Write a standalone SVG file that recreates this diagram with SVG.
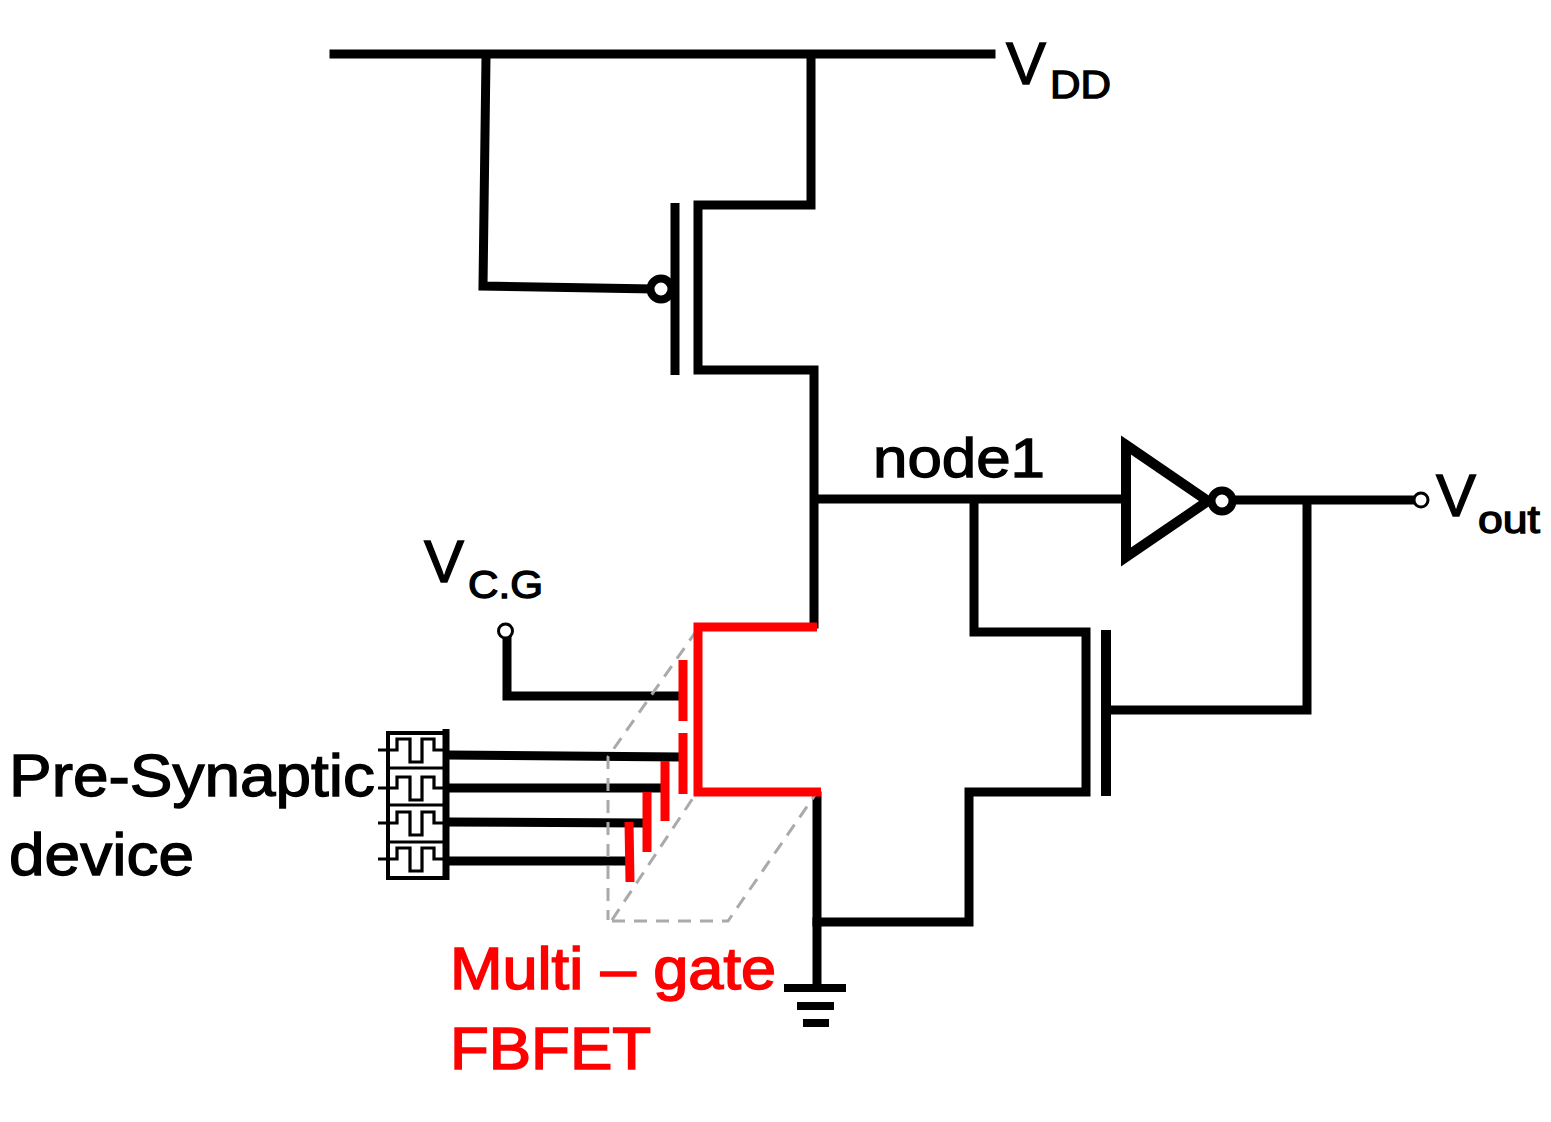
<svg xmlns="http://www.w3.org/2000/svg" width="1551" height="1122" viewBox="0 0 1551 1122">
<style>
text{font-family:"Liberation Sans",Arial,sans-serif;fill:#000;stroke:#000;stroke-width:1.3}
.w{fill:none;stroke:#000;stroke-width:9;stroke-linecap:square;stroke-linejoin:miter}
.r{fill:none;stroke:#f00;stroke-width:9;stroke-linecap:butt;stroke-linejoin:miter}
.d{fill:none;stroke:#aaa;stroke-width:3;stroke-dasharray:13 9}
.t{fill:none;stroke:#000;stroke-width:3.2}
.l{font-size:60px}
.s{font-size:38px}
.m{font-size:59px}
text.red{fill:#f00;stroke:#f00;stroke-width:1.6}
</style>
<rect width="1551" height="1122" fill="#fff"/>
<g id="connectors">
<path class="w" d="M334 54H991"/>
<path class="w" d="M486 57L483 286L650 289"/>
<path class="w" d="M811 57V205H698V370H814V624"/>
<path class="w" d="M817 499H1124"/>
<path class="w" d="M974 502V632H1086V792H969V922H817"/>
<path class="w" d="M1236 500H1414"/>
<path class="w" d="M1307 503V710H1112"/>
<path class="w" d="M817 796V986"/>
<path class="w" d="M507 640V696H678"/>
<path class="w" d="M449 755L676 757"/>
<path class="w" d="M449 788H658"/>
<path class="w" d="M449 822L640 823"/>
<path class="w" d="M449 861H622"/>
<path class="d" d="M697 630L608 757V920"/>
<path class="d" d="M612 920L697 792"/>
<path class="d" d="M612 921H728L815 795"/>
</g>
<g id="pmos">
<path d="M675 203V375" fill="none" stroke="#000" stroke-width="9"/>
<circle cx="661" cy="289" r="10.5" fill="#fff" stroke="#000" stroke-width="8"/>
</g>
<g id="feedback-nmos">
<path d="M1106 630V796" fill="none" stroke="#000" stroke-width="10"/>
</g>
<g id="multi-gate-fbfet">
<path class="r" d="M817 627H698V792H821"/>
<path class="r" d="M683 660V721M683 733V794M665 761V821M647 792V852"/>
<path class="r" d="M629 822L630 882"/>
</g>
<g id="inverter">
<path d="M1126 445L1208 501L1126 557Z" fill="#fff" stroke="#000" stroke-width="10"/>
<circle cx="1222" cy="501" r="10.5" fill="#fff" stroke="#000" stroke-width="8"/>
</g>
<g id="vout-terminal">
<circle cx="1421" cy="500" r="7" fill="#fff" stroke="#000" stroke-width="3"/>
</g>
<g id="vcg-terminal">
<circle cx="505.5" cy="631" r="7" fill="#fff" stroke="#000" stroke-width="3"/>
</g>
<g id="ground">
<path d="M784 988H846M797 1006H834M803 1023H829" fill="none" stroke="#000" stroke-width="8"/>
</g>
<g id="pre-synaptic-devices">
<rect x="388" y="733" width="58" height="145" fill="#fff" stroke="#000" stroke-width="4"/>
<path d="M446 729V880" fill="none" stroke="#000" stroke-width="7"/>
<path class="t" d="M388 768H446M388 805H446M388 842H446"/>
<path class="t" d="M378 750H397V739H410V762H422V739H434V750H446"/>
<path class="t" d="M378 788H397V777H410V800H422V777H434V788H446"/>
<path class="t" d="M378 823H397V812H410V835H422V812H434V823H446"/>
<path class="t" d="M378 859H397V848H410V871H422V848H434V859H446"/>
</g>
<g id="labels">
<text class="l" x="1006" y="84">V</text><text class="s" x="1050" y="98" textLength="61" lengthAdjust="spacingAndGlyphs">DD</text>
<text x="873" y="477" font-size="56" textLength="172" lengthAdjust="spacingAndGlyphs">node1</text>
<text class="l" x="1436" y="516">V</text><text class="s" x="1478" y="533" textLength="62" lengthAdjust="spacingAndGlyphs">out</text>
<text class="l" x="424" y="582">V</text><text class="s" x="468" y="598" textLength="75" lengthAdjust="spacingAndGlyphs">C.G</text>
<text x="9" y="796" font-size="59" textLength="366" lengthAdjust="spacingAndGlyphs">Pre-Synaptic</text>
<text x="9" y="875" font-size="59" textLength="185" lengthAdjust="spacingAndGlyphs">device</text>
<text class="m red" x="450" y="989" textLength="326" lengthAdjust="spacingAndGlyphs">Multi – gate</text>
<text class="m red" x="450" y="1069" textLength="201" lengthAdjust="spacingAndGlyphs">FBFET</text>
</g>
</svg>
